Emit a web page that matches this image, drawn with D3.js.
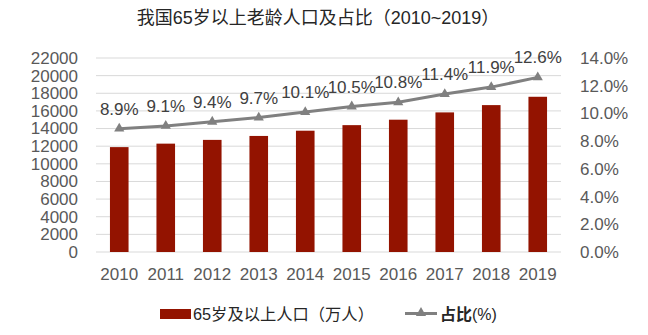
<!DOCTYPE html>
<html><head><meta charset="utf-8">
<script src="https://cdn.jsdelivr.net/npm/d3@7"></script>
<style>body{margin:0;background:#fff}svg{display:block}</style>
</head><body>
<script>
const years = ["2010","2011","2012","2013","2014","2015","2016","2017","2018","2019"];
const population = [11894,12288,12714,13161,13755,14386,15003,15831,16658,17603];
const share = [8.9,9.1,9.4,9.7,10.1,10.5,10.8,11.4,11.9,12.6];
const leftTicks = d3.range(0,22001,2000);
const rightTicks = [0,2,4,6,8,10,12,14];
const title = "我国65岁以上老龄人口及占比（2010~2019）";
const legendBar = "65岁及以上人口（万人）";
const legendLineA = "占比";
const legendLineB = "(%)";

const W=648,H=335;
const font = "'Liberation Sans','Noto Sans CJK SC',sans-serif";
const svg = d3.select("body").append("svg").attr("width",W).attr("height",H)
  .style("font-family",font);

const x = d3.scaleBand().domain(years).range([96,561]).paddingInner(0.6).paddingOuter(0.3);
const yL = d3.scaleLinear().domain([0,22000]).range([252,58]);
const yR = d3.scaleLinear().domain([0,14]).range([252,58]);

// grid
svg.append("g").selectAll("line").data(leftTicks).join("line")
  .attr("x1",96).attr("x2",561).attr("y1",d=>yL(d)).attr("y2",d=>yL(d))
  .attr("stroke","#d9d9d9").attr("stroke-width",1);

// left axis
const gl = svg.append("g").attr("transform","translate(84,0)")
  .call(d3.axisLeft(yL).tickValues(leftTicks).tickSize(0).tickPadding(6).tickFormat(d3.format("d")));
gl.select(".domain").remove();
gl.selectAll("text").attr("font-size",17).attr("fill","#595959").style("font-family",font);

// right axis
const gr = svg.append("g").attr("transform","translate(574,0)")
  .call(d3.axisRight(yR).tickValues(rightTicks).tickSize(0).tickPadding(6).tickFormat(d=>d.toFixed(1)+"%"));
gr.select(".domain").remove();
gr.selectAll("text").attr("font-size",17).attr("fill","#595959").style("font-family",font);

// bottom axis
const gb = svg.append("g").attr("transform","translate(0,262)")
  .call(d3.axisBottom(x).tickSize(0).tickPadding(6));
gb.select(".domain").remove();
gb.selectAll("text").attr("font-size",17).attr("fill","#595959").style("font-family",font);

// bars
svg.append("g").selectAll("rect").data(population).join("rect")
  .attr("x",(d,i)=>x(years[i])).attr("width",x.bandwidth())
  .attr("y",d=>yL(d)).attr("height",d=>yL(0)-yL(d)).attr("fill","#931300");

// line
const cx = i => x(years[i])+x.bandwidth()/2;
svg.append("path").datum(share)
  .attr("d",d3.line().x((d,i)=>cx(i)).y(d=>yR(d)))
  .attr("fill","none").attr("stroke","#808080").attr("stroke-width",3);
const tri = d3.symbol().type(d3.symbolTriangle).size(45);
svg.append("g").selectAll("path").data(share).join("path")
  .attr("d",tri).attr("transform",(d,i)=>`translate(${cx(i)},${yR(d)})`).attr("fill","#808080");
svg.append("g").selectAll("text").data(share).join("text")
  .attr("x",(d,i)=>cx(i)).attr("y",d=>yR(d)-14).attr("text-anchor","middle")
  .attr("font-size",17).attr("fill","#404040").text(d=>d.toFixed(1)+"%");

// title
svg.append("text").attr("x",318).attr("y",24).attr("text-anchor","middle")
  .attr("font-size",18).attr("fill","#262626").text(title);

// legend
svg.append("rect").attr("x",160).attr("y",309).attr("width",31).attr("height",10).attr("fill","#931300");
svg.append("text").attr("x",193).attr("y",319.5).attr("font-size",16.3).attr("fill","#262626").text(legendBar);
svg.append("line").attr("x1",405).attr("x2",437).attr("y1",313.5).attr("y2",313.5)
  .attr("stroke","#808080").attr("stroke-width",3);
svg.append("path").attr("d",tri).attr("transform","translate(421,313)").attr("fill","#808080");
const lt = svg.append("text").attr("x",440).attr("y",319.5).attr("font-size",16).attr("fill","#262626");
lt.append("tspan").attr("font-weight","bold").text(legendLineA);
lt.append("tspan").text(legendLineB);
</script>
</body></html>
